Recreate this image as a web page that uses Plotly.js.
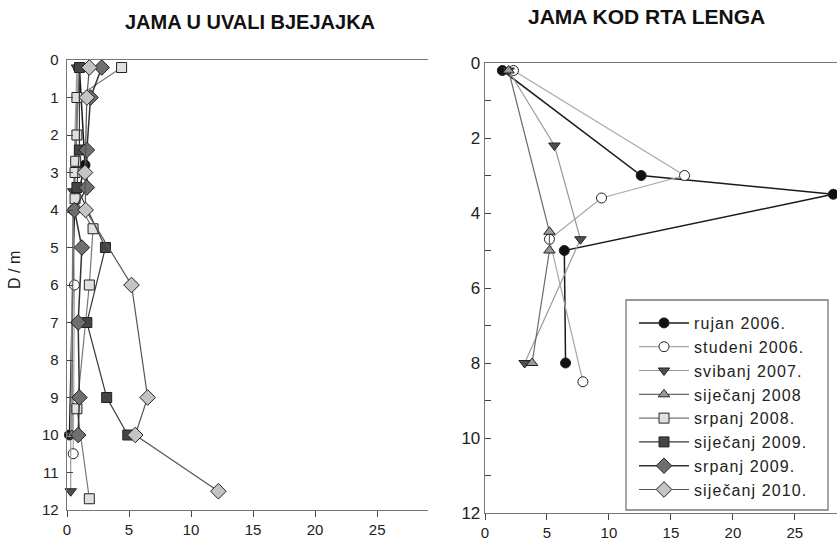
<!DOCTYPE html>
<html><head><meta charset="utf-8">
<script src="https://cdn.plot.ly/plotly-3.0.1.min.js"></script>
<style>body{margin:0;background:#fff}#c{width:837px;height:541px}
.legendtext{letter-spacing:1.1px}
</style>
</head><body><div id="c"></div>
<script>
// Series names
const seriesNames = ["rujan 2006.","studeni 2006.","svibanj 2007.","siječanj 2008","srpanj 2008.","siječanj 2009.","srpanj 2009.","siječanj 2010."];

// Left panel: JAMA U UVALI BJEJAJKA (depth D / m, value)
const L_rujan06_d = [0.2, 2.8, 4, 10];
const L_rujan06_v = [1.0, 1.45, 0.6, 0.2];
const L_studeni06_d = [0.2, 4, 6, 10.5];
const L_studeni06_v = [0.9, 0.5, 0.6, 0.5];
const L_svibanj07_d = [0.2, 3.5, 10, 11.5];
const L_svibanj07_v = [0.8, 0.5, 0.3, 0.3];
const L_sijecanj08_d = [0.2, 4, 10];
const L_sijecanj08_v = [1.0, 0.5, 0.4];
const L_srpanj08_d = [0.2, 1, 2, 2.7, 3, 3.7, 4.5, 6, 9.3, 11.7];
const L_srpanj08_v = [4.4, 0.8, 0.8, 0.7, 0.65, 0.65, 2.1, 1.8, 0.8, 1.8];
const L_sijecanj09_d = [0.2, 2.4, 3.4, 5, 7, 9, 10];
const L_sijecanj09_v = [1.0, 1.0, 0.8, 3.1, 1.6, 3.2, 4.9];
const L_srpanj09_d = [0.2, 1, 2.4, 3.4, 4, 5, 7, 9, 10];
const L_srpanj09_v = [2.8, 1.9, 1.6, 1.6, 0.6, 1.2, 0.9, 1.0, 0.9];
const L_sijecanj10_d = [0.2, 1, 3, 4, 6, 9, 10, 11.5];
const L_sijecanj10_v = [1.8, 1.6, 1.45, 1.5, 5.2, 6.5, 5.5, 12.2];

// Right panel: JAMA KOD RTA LENGA
const R_rujan06_d = [0.2, 3, 3.5, 5, 8];
const R_rujan06_v = [1.4, 12.6, 28.1, 6.4, 6.5];
const R_studeni06_d = [0.2, 3, 3.6, 4.7, 8.5];
const R_studeni06_v = [2.3, 16.1, 9.4, 5.2, 7.9];
const R_svibanj07_d = [0.2, 2.2, 4.7, 8];
const R_svibanj07_v = [1.9, 5.6, 7.7, 3.2];
const R_sijecanj08_d = [0.2, 4.5, 5, 8];
const R_sijecanj08_v = [1.9, 5.2, 5.2, 3.8];

const xTicks = [0, 5, 10, 15, 20, 25];
const yTicksLeft = [0,1,2,3,4,5,6,7,8,9,10,11,12];
const yTicksRight = [0,2,4,6,8,10,12];

const styles = [
  {line:'#1a1a1a', lw:1.5, sym:'circle', fill:'#111111', size:10},
  {line:'#a8a8a8', lw:1.2, sym:'circle', fill:'#ffffff', size:10},
  {line:'#9a9a9a', lw:1.2, sym:'triangle-down', fill:'#505050', size:10},
  {line:'#6a6a6a', lw:1.2, sym:'triangle-up', fill:'#9a9a9a', size:10},
  {line:'#777777', lw:1.2, sym:'square', fill:'#e0e0e0', size:10},
  {line:'#3a3a3a', lw:1.2, sym:'square', fill:'#454545', size:10},
  {line:'#333333', lw:1.5, sym:'diamond', fill:'#6f6f6f', size:12},
  {line:'#555555', lw:1.2, sym:'diamond', fill:'#c4c4c4', size:12}
];

function tr(v, d, i, xa, ya, show) {
  const s = styles[i];
  return {
    x: v, y: d, xaxis: xa, yaxis: ya, type: 'scatter', mode: 'lines+markers',
    name: seriesNames[i], showlegend: show, cliponaxis: false,
    line: {color: s.line, width: s.lw},
    marker: {symbol: s.sym, size: s.size, color: s.fill, line: {color: '#222222', width: 1}}
  };
}

const data = [
  tr(L_rujan06_v, L_rujan06_d, 0, 'x', 'y', false),
  tr(L_studeni06_v, L_studeni06_d, 1, 'x', 'y', false),
  tr(L_svibanj07_v, L_svibanj07_d, 2, 'x', 'y', false),
  tr(L_sijecanj08_v, L_sijecanj08_d, 3, 'x', 'y', false),
  tr(L_srpanj08_v, L_srpanj08_d, 4, 'x', 'y', false),
  tr(L_sijecanj09_v, L_sijecanj09_d, 5, 'x', 'y', false),
  tr(L_srpanj09_v, L_srpanj09_d, 6, 'x', 'y', false),
  tr(L_sijecanj10_v, L_sijecanj10_d, 7, 'x', 'y', false),
  tr(R_rujan06_v, R_rujan06_d, 0, 'x2', 'y2', true),
  tr(R_studeni06_v, R_studeni06_d, 1, 'x2', 'y2', true),
  tr(R_svibanj07_v, R_svibanj07_d, 2, 'x2', 'y2', true),
  tr(R_sijecanj08_v, R_sijecanj08_d, 3, 'x2', 'y2', true),
  tr([null], [null], 4, 'x2', 'y2', true),
  tr([null], [null], 5, 'x2', 'y2', true),
  tr([null], [null], 6, 'x2', 'y2', true),
  tr([null], [null], 7, 'x2', 'y2', true)
];

const W = 837, H = 541;
const fnt = {family: 'Arial, "Liberation Sans", sans-serif', size: 15, color: '#222'};
const axBase = {
  showgrid: false, zeroline: false, showline: true, linecolor: '#777', linewidth: 1.3,
  tickfont: fnt, tickcolor: '#444', fixedrange: true
};

const layout = {
  width: W, height: H, margin: {l: 0, r: 0, t: 0, b: 0},
  paper_bgcolor: '#fff', plot_bgcolor: '#fff', font: fnt,
  showlegend: true,
  xaxis: Object.assign({}, axBase, {
    domain: [67/W, 428/W], range: [0, 29.1], tickvals: xTicks, ticks: 'outside', ticklen: 6,
    mirror: true, anchor: 'y'
  }),
  yaxis: Object.assign({}, axBase, {
    domain: [(H-510)/H, (H-60)/H], range: [12, 0], tickvals: yTicksLeft, ticks: 'inside', ticklen: 6,
    anchor: 'x', ticklabelstandoff: 4
  }),
  xaxis2: Object.assign({}, axBase, {
    domain: [485/W, 1], range: [0, 28.4], tickvals: xTicks, ticks: 'outside', ticklen: 6,
    mirror: true, anchor: 'y2'
  }),
  yaxis2: Object.assign({}, axBase, {
    domain: [(H-513)/H, (H-63)/H], range: [12, 0], tickvals: yTicksRight, ticks: 'inside', ticklen: 6,
    anchor: 'x2', tickfont: Object.assign({}, fnt, {size: 17}),
    minor: {dtick: 1, tick0: 1, ticks: 'inside', ticklen: 6, tickcolor: '#444'}
  }),
  shapes: [
    {type: 'rect', xref: 'paper', yref: 'paper', x0: 626/W, x1: 828/W, y0: (H-510)/H, y1: (H-300)/H,
     line: {color: '#777', width: 1.3}, fillcolor: '#fff', layer: 'above'}
  ],
  legend: {
    x: 634/W, y: (H-306)/H, xanchor: 'left', yanchor: 'top', xref: 'paper', yref: 'paper',
    bgcolor: 'rgba(0,0,0,0)', borderwidth: 0,
    font: Object.assign({}, fnt, {size: 16}), itemwidth: 50, tracegroupgap: 0
  },
  annotations: [
    {text: '<b>JAMA U UVALI BJEJAJKA</b>', x: 250/W, y: (H-22)/H, xref: 'paper', yref: 'paper',
     showarrow: false, xanchor: 'center', yanchor: 'middle', font: Object.assign({}, fnt, {size: 20, color: '#111'})},
    {text: '<b>JAMA KOD RTA LENGA</b>', x: 646/W, y: (H-17)/H, xref: 'paper', yref: 'paper',
     showarrow: false, xanchor: 'center', yanchor: 'middle', font: Object.assign({}, fnt, {size: 21, color: '#111'})},
    {text: 'D / m', x: 14/W, y: (H-270)/H, xref: 'paper', yref: 'paper', textangle: -90,
     showarrow: false, xanchor: 'center', yanchor: 'middle', font: Object.assign({}, fnt, {size: 16})}
  ]
};

Plotly.newPlot('c', data, layout, {displayModeBar: false, staticPlot: true});
</script>
</body></html>
